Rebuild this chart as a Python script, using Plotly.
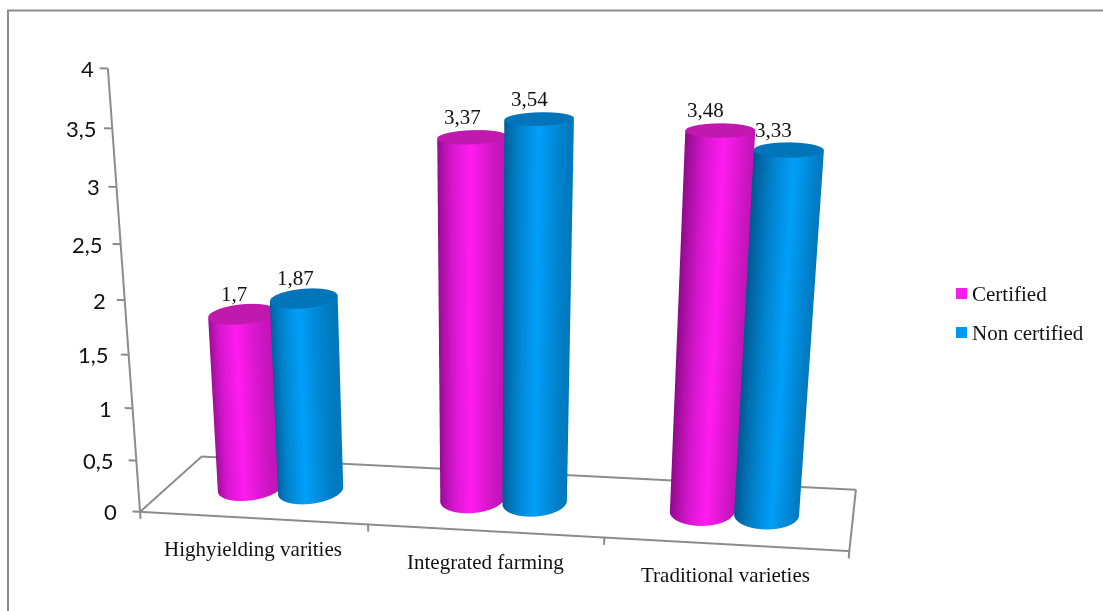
import numpy as np
import plotly.graph_objects as go

# Chart values
categories = ["Highyielding varities", "Integrated farming", "Traditional varieties"]
series_names = ["Certified", "Non certified"]
certified = [1.7, 3.37, 3.48]
non_certified = [1.87, 3.54, 3.33]
value_labels = [["1,7", "3,37", "3,48"], ["1,87", "3,54", "3,33"]]
value_ticks = [0, 0.5, 1, 1.5, 2, 2.5, 3, 3.5, 4]
value_tick_labels = ["0", "0,5", "1", "1,5", "2", "2,5", "3", "3,5", "4"]

# Styling
FIG_W, FIG_H = 1103, 1800
BAR_RADIUS_X = 0.137
BAR_RADIUS_Y = 0.24
FRAME = "#8c8c8c"
TEXT = "#111111"
BAR_SCALES = [
    [[0, "#8a0a86"], [0.35, "#d716cf"], [0.62, "#ff1cf0"], [1, "#c114b8"]],
    [[0, "#00578f"], [0.35, "#0085d0"], [0.62, "#00a0fa"], [1, "#0078bd"]],
]
CAP_COLOURS = ["#c118ae", "#0075ba"]
LEGEND_COLOURS = ["#f71ce6", "#0099f2"]
FLAT_LIGHT = dict(ambient=1, diffuse=0, specular=0, fresnel=0)
VALUE_LABEL_XSHIFT = [-8, -10, -15]


def cylinder(cx, height, colorscale, cap_colour):
    """Side wall and top cap of one bar, sitting on the floor of the scene."""
    theta = np.linspace(0, 2 * np.pi, 97)
    xs = cx + BAR_RADIUS_X * np.cos(theta)
    ys = 0.5 + BAR_RADIUS_Y * np.sin(theta)
    shade = (np.cos(theta) + 1) / 2
    wall = go.Surface(
        x=np.vstack([xs, xs]),
        y=np.vstack([ys, ys]),
        z=np.vstack([np.zeros_like(xs), np.full_like(xs, height)]),
        surfacecolor=np.vstack([shade, shade]),
        colorscale=colorscale,
        cmin=0,
        cmax=1,
        showscale=False,
        hoverinfo="skip",
        lighting=FLAT_LIGHT,
    )
    cap = go.Mesh3d(
        x=np.append(xs, cx),
        y=np.append(ys, 0.5),
        z=np.full(len(xs) + 1, height),
        i=np.arange(96),
        j=np.arange(1, 97),
        k=np.full(96, 97),
        color=cap_colour,
        flatshading=True,
        hoverinfo="skip",
        lighting=FLAT_LIGHT,
    )
    return [wall, cap]


def frame_line(xs, ys, zs):
    return go.Scatter3d(
        x=xs, y=ys, z=zs, mode="lines",
        line=dict(color=FRAME, width=4),
        hoverinfo="skip", showlegend=False,
    )


fig = go.Figure()

# Bars: each category slot is one unit wide, the two series touch at its middle
for s, values in enumerate([certified, non_certified]):
    for c, value in enumerate(values):
        cx = c + 0.5 + (s - 0.5) * 2 * BAR_RADIUS_X
        for trace in cylinder(cx, value, BAR_SCALES[s], CAP_COLOURS[s]):
            fig.add_trace(trace)

n = len(categories)
top = value_ticks[-1]

# Floor outline and the value axis on its front-left corner
fig.add_trace(frame_line([0, n, n, 0, 0], [0, 0, 1, 1, 0], [0, 0, 0, 0, 0]))
fig.add_trace(frame_line([0, 0], [0, 0], [-0.07, top]))
for t in value_ticks:
    fig.add_trace(frame_line([-0.034, 0], [0, 0], [t, t]))
for c in range(n + 1):
    fig.add_trace(frame_line([c, c], [0, 0], [0, -0.07]))

annotations = []
for t, label in zip(value_ticks, value_tick_labels):
    annotations.append(dict(
        x=0, y=0, z=t, text=label, showarrow=False, xanchor="right",
        xshift=-21 + 2.25 * t, font=dict(family="Lato", size=22, color=TEXT),
    ))
for c, name in enumerate(categories):
    annotations.append(dict(
        x=c + 0.5, y=0, z=0, text=name, showarrow=False,
        xshift=0, yshift=-31,
        font=dict(family="Liberation Serif", size=21, color=TEXT),
    ))
for s, values in enumerate([certified, non_certified]):
    for c, value in enumerate(values):
        annotations.append(dict(
            x=c + 0.5 + (s - 0.5) * 2 * BAR_RADIUS_X, y=0.5, z=value,
            text=value_labels[s][c], showarrow=False,
            xshift=VALUE_LABEL_XSHIFT[c], yshift=20,
            font=dict(family="Liberation Serif", size=21, color=TEXT),
        ))

# Viewing direction and eye placement for the slightly raised, turned view
azimuth = np.arctan(0.185)
elevation = np.arctan(0.505)
view = np.array([
    -np.sin(azimuth) * np.cos(elevation),
    np.cos(azimuth) * np.cos(elevation),
    -np.sin(elevation),
])
eye = np.array([1.161, -6.692, 1.348])
target = eye + 7.0 * view

fig.update_layout(
    width=FIG_W,
    height=FIG_H,
    margin=dict(l=0, r=0, t=0, b=0),
    paper_bgcolor="white",
    showlegend=False,
    scene=dict(
        domain=dict(x=[0, 960 / FIG_W], y=[0, 1]),
        xaxis=dict(visible=False, range=[-0.1, n + 0.1]),
        yaxis=dict(visible=False, range=[0, 1]),
        zaxis=dict(visible=False, range=[-0.1, top + 0.05]),
        aspectmode="manual",
        aspectratio=dict(x=2.36, y=0.66, z=1.362),
        camera=dict(
            projection=dict(type="perspective"),
            eye=dict(x=eye[0], y=eye[1], z=eye[2]),
            center=dict(x=target[0], y=target[1], z=target[2]),
            up=dict(x=0, y=0, z=1),
        ),
        annotations=annotations,
    ),
)


def px_x(x):
    return x / FIG_W


def px_y(y):
    return 1 - y / FIG_H


# Legend block and the page's top and left rules
legend_y = [294, 333]
shapes = [
    dict(type="line", xref="paper", yref="paper", x0=px_x(7), x1=1, y0=px_y(10.5), y1=px_y(10.5),
         line=dict(color=FRAME, width=2)),
    dict(type="line", xref="paper", yref="paper", x0=px_x(8), x1=px_x(8), y0=px_y(10), y1=px_y(611),
         line=dict(color=FRAME, width=2)),
]
legend_notes = []
for name, colour, y in zip(series_names, LEGEND_COLOURS, legend_y):
    shapes.append(dict(
        type="rect", xref="paper", yref="paper",
        x0=px_x(956), x1=px_x(967), y0=px_y(y + 5), y1=px_y(y - 6),
        line=dict(width=0), fillcolor=colour,
    ))
    legend_notes.append(dict(
        xref="paper", yref="paper", x=px_x(970), y=px_y(y),
        xanchor="left", yanchor="middle", text=name, showarrow=False,
        font=dict(family="Liberation Serif", size=21, color=TEXT),
    ))
fig.update_layout(shapes=shapes, annotations=legend_notes)

fig.write_html("out.html", post_script="document.documentElement.style.overflow='hidden';")
